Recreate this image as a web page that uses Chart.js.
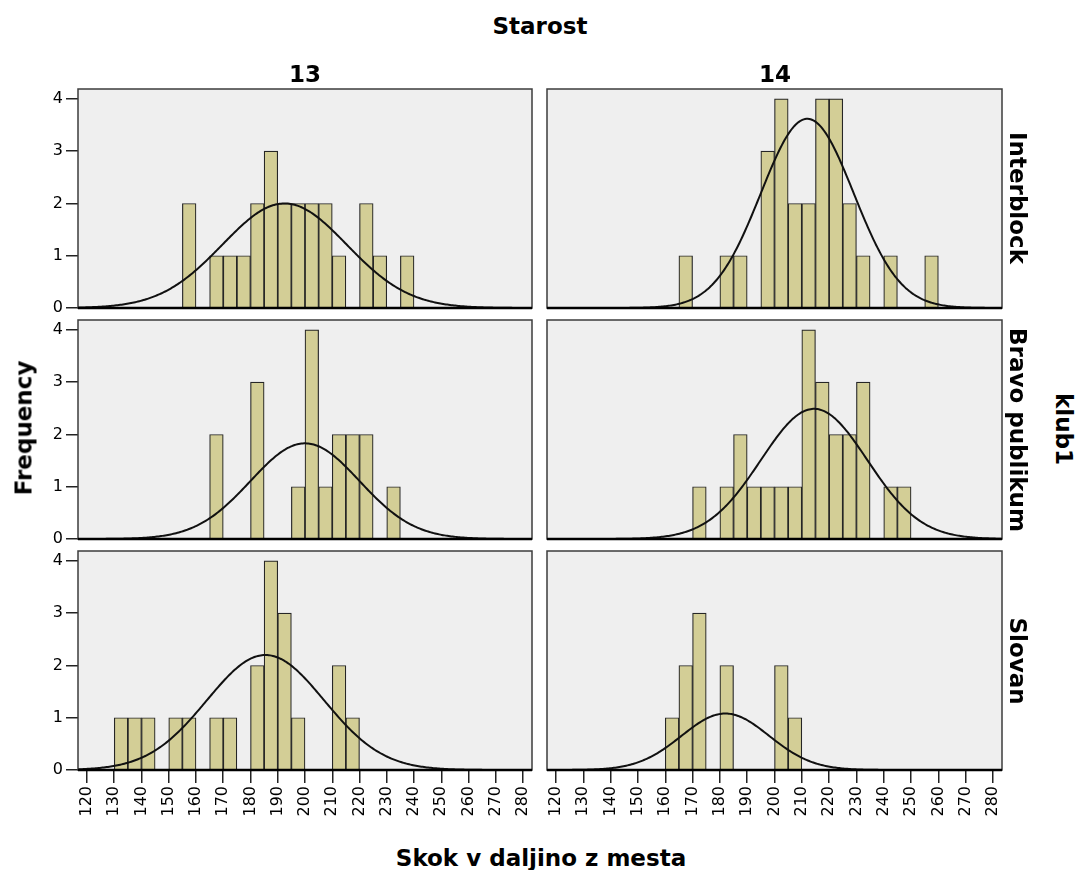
<!DOCTYPE html>
<html>
<head>
<meta charset="utf-8">
<script src="https://cdn.jsdelivr.net/npm/chart.js@4"></script>
<style>
  body { margin: 0; background: #fff; }
  #wrap { position: relative; width: 1077px; height: 870px; overflow: hidden; font-family: "DejaVu Sans", sans-serif; }
  #wrap canvas { position: absolute; }
  .lbl { position: absolute; font-weight: bold; font-size: 23px; color: #000; white-space: nowrap; line-height: 1; transform: translate(-50%, -50%); z-index: 5; }
  .up { transform: translate(-50%, -50%) rotate(-90deg); }
  .down { transform: translate(-50%, -50%) rotate(90deg); }
</style>
</head>
<body>
<div id="wrap">
  <canvas id="p13a" width="529" height="304" style="left:18px;top:74px"></canvas>
  <canvas id="p14a" width="530" height="304" style="left:487px;top:74px"></canvas>
  <canvas id="p13b" width="529" height="304" style="left:18px;top:305px"></canvas>
  <canvas id="p14b" width="530" height="304" style="left:487px;top:305px"></canvas>
  <canvas id="p13c" width="529" height="304" style="left:18px;top:536px"></canvas>
  <canvas id="p14c" width="530" height="304" style="left:487px;top:536px"></canvas>

  <div class="lbl" style="left:540px;top:26px">Starost</div>
  <div class="lbl" style="left:305px;top:74px">13</div>
  <div class="lbl" style="left:775px;top:74px">14</div>
  <div class="lbl down" style="left:1017px;top:198px">Interblock</div>
  <div class="lbl down" style="left:1017px;top:430px">Bravo publikum</div>
  <div class="lbl down" style="left:1017px;top:661px">Slovan</div>
  <div class="lbl down" style="left:1063px;top:429px">klub1</div>
  <div class="lbl up" style="left:24px;top:428px">Frequency</div>
  <div class="lbl" style="left:541px;top:858px">Skok v daljino z mesta</div>
</div>
<script>
// bins are 5 cm wide, first bin starts at 130
const binWidth = 5;
const binStarts = [130, 135, 140, 145, 150, 155, 160, 165, 170, 175, 180, 185, 190,
                   195, 200, 205, 210, 215, 220, 225, 230, 235, 240, 245, 250, 255];
const xTickValues = [120, 130, 140, 150, 160, 170, 180, 190, 200, 210, 220, 230, 240, 250, 260, 270, 280];
const yTickValues = [0, 1, 2, 3, 4];

// frequencies per bin (Starost 13 / 14, klub1 rows)
const interblock13 = [0,0,0,0,0,2,0,1,1,1,2,3,2,2,2,2,1,0,2,1,0,1,0,0,0,0];
const interblock14 = [0,0,0,0,0,0,0,1,0,0,1,1,0,3,4,2,2,4,4,2,1,0,1,0,0,1];
const bravo13      = [0,0,0,0,0,0,0,2,0,0,3,0,0,1,4,1,2,2,2,0,1,0,0,0,0,0];
const bravo14      = [0,0,0,0,0,0,0,0,1,0,1,2,1,1,1,1,4,3,2,2,3,0,1,1,0,0];
const slovan13     = [1,1,1,0,1,1,0,1,1,0,2,4,3,1,0,0,2,1,0,0,0,0,0,0,0,0];
const slovan14     = [0,0,0,0,0,0,1,2,3,0,2,0,0,0,2,1,0,0,0,0,0,0,0,0,0,0];

// normal curve: mean, sd and peak height, rows Interblock / Bravo publikum / Slovan
const mean13 = [192.5, 200, 185.5];
const sd13   = [22.8, 20, 21.5];
const peak13 = [2.0, 1.83, 2.2];
const mean14 = [212, 214.5, 182];
const sd14   = [17, 19.5, 16];
const peak14 = [3.62, 2.49, 1.08];

const xMin = 116.7, xMax = 283.3, yMax = 4.19;

const panelFrame = {
    id: 'panelFrame',
    beforeDatasetsDraw(chart) {
        const { ctx, chartArea: a } = chart;
        ctx.save();
        ctx.fillStyle = '#efefef';
        ctx.fillRect(a.left, a.top, a.width, a.height);
        ctx.restore();
    },
    afterDatasetsDraw(chart) {
        const { ctx, chartArea: a } = chart;
        ctx.save();
        ctx.strokeStyle = '#3c3c3c';
        ctx.lineWidth = 1.5;
        ctx.strokeRect(a.left, a.top, a.width, a.height);
        ctx.strokeStyle = '#000';
        ctx.lineWidth = 2.5;
        ctx.beginPath();
        ctx.moveTo(a.left, a.bottom);
        ctx.lineTo(a.right, a.bottom);
        ctx.stroke();
        ctx.restore();
    }
};

function normalCurve(mean, sd, peak) {
    const pts = [];
    for (let x = xMin; x <= xMax + 0.01; x += 0.5) {
        pts.push({ x: x, y: peak * Math.exp(-((x - mean) ** 2) / (2 * sd * sd)) });
    }
    return pts;
}

function makePanel(id, counts, mean, sd, peak, showY, showX) {
    const tickFont = { family: 'DejaVu Sans', size: 16 };
    new Chart(document.getElementById(id), {
        type: 'bar',
        data: {
            datasets: [
                {
                    type: 'line',
                    data: normalCurve(mean, sd, peak),
                    borderColor: '#111',
                    borderWidth: 2,
                    pointRadius: 0,
                    fill: false,
                    order: 0
                },
                {
                    data: counts.map((c, i) => ({ x: binStarts[i] + binWidth / 2, y: c })),
                    backgroundColor: '#d3ce96',
                    borderColor: '#262626',
                    borderWidth: 1.2,
                    barPercentage: 1,
                    categoryPercentage: 1,
                    order: 1
                }
            ]
        },
        options: {
            responsive: false,
            animation: false,
            events: [],
            layout: { padding: { top: 15, right: 15, left: 0, bottom: 0 } },
            plugins: { legend: { display: false }, tooltip: { enabled: false } },
            scales: {
                x: {
                    type: 'linear',
                    offset: false,
                    min: xMin,
                    max: xMax,
                    afterBuildTicks: s => { s.ticks = xTickValues.map(v => ({ value: v })); },
                    afterFit: s => { s.height = 70; },
                    border: { display: false },
                    grid: { display: showX, offset: false, drawOnChartArea: false, tickLength: 13, color: '#222', lineWidth: 1.5 },
                    ticks: { display: showX, minRotation: 90, maxRotation: 90, autoSkip: false, padding: 3, color: '#000', font: tickFont }
                },
                y: {
                    min: 0,
                    max: yMax,
                    afterBuildTicks: s => { s.ticks = yTickValues.map(v => ({ value: v })); },
                    afterFit: s => { s.width = 60; },
                    border: { display: false },
                    grid: { display: showY, drawOnChartArea: false, tickLength: 12, color: '#222', lineWidth: 1.5 },
                    ticks: { display: showY, padding: 3, color: '#000', font: tickFont }
                }
            }
        },
        plugins: [panelFrame]
    });
}

makePanel('p13a', interblock13, mean13[0], sd13[0], peak13[0], true, false);
makePanel('p14a', interblock14, mean14[0], sd14[0], peak14[0], false, false);
makePanel('p13b', bravo13, mean13[1], sd13[1], peak13[1], true, false);
makePanel('p14b', bravo14, mean14[1], sd14[1], peak14[1], false, false);
makePanel('p13c', slovan13, mean13[2], sd13[2], peak13[2], true, true);
makePanel('p14c', slovan14, mean14[2], sd14[2], peak14[2], false, true);
</script>
</body>
</html>
